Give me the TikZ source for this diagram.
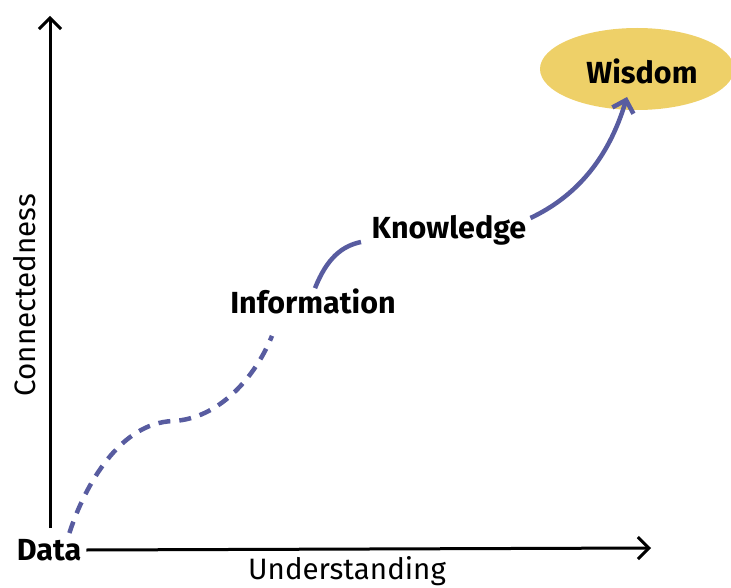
\documentclass[tikz,border=0pt]{standalone}
\usepackage{fontspec}
\setmainfont{Fira Sans}
\usepackage{tikz}
\usetikzlibrary{arrows.meta, shapes.geometric}
\definecolor{pathblue}{RGB}{88,92,160}
\definecolor{wisdomgold}{RGB}{238,208,104}
\tikzset{
>={Straight Barb[length=11pt,width=22pt]},
  axis/.style={draw=black, line width=3pt, ->},
  stage/.style={
    font=\bfseries\fontsize{30.5}{32}\selectfont,
    inner sep=2pt},
  axislabel/.style={font=\fontsize{29.5}{31}\selectfont, inner sep=0pt},
  trail/.style={draw=pathblue, line width=4.5pt},
  dashtrail/.style={trail, dash pattern=on 12pt off 9pt},
  goal/.style={
    ellipse,
    fill=wisdomgold,
    minimum width=194pt,
    minimum height=82pt,
    inner sep=0pt},
}
\begin{document}
\begin{tikzpicture}[x=1pt, y=-1pt]
  \useasboundingbox (0,0) rectangle (731,588);
  % axes
  \node[stage] (Data) at (49,550) {Data};
  \coordinate (Origin) at (50,528);
  \coordinate (TopEnd) at (50,16);
  \coordinate (RightEnd) at (651,548);
  \draw[axis] (Origin) -- (TopEnd);
  \draw[axis] ([shift={(3,0)}]Data.east) -- (RightEnd);
  \node[axislabel] (Understanding) at (347,571) {Understanding};
  \node[axislabel, rotate=90] (Connectedness) at (25,295) {Connectedness};
  % stages
  \node[stage] (Information) at (313,301) {Information};
  \node[stage] (Knowledge)   at (449,230) {Knowledge};
  \node[goal] (WisdomBlob) at (637,69) {};
  \node[stage] (Wisdom) at (642,71) {Wisdom};
  % path between stages
  \draw[dashtrail] ([shift={(-14,-4)}]Data.north east)
     .. controls (85,485) and (120,423) .. (173,421)
     .. controls (218,419) and (255,378) .. ([shift={(-41,20)}]Information.south);
  \draw[trail] ([shift={(2,2)}]Information.north)
     .. controls (327,258) and (342,246) .. (361,242);
  \draw[trail, ->] ([shift={(2,-12)}]Knowledge.east)
     .. controls (575,197) and (608,160) .. (627,97);
\end{tikzpicture}
\end{document}
